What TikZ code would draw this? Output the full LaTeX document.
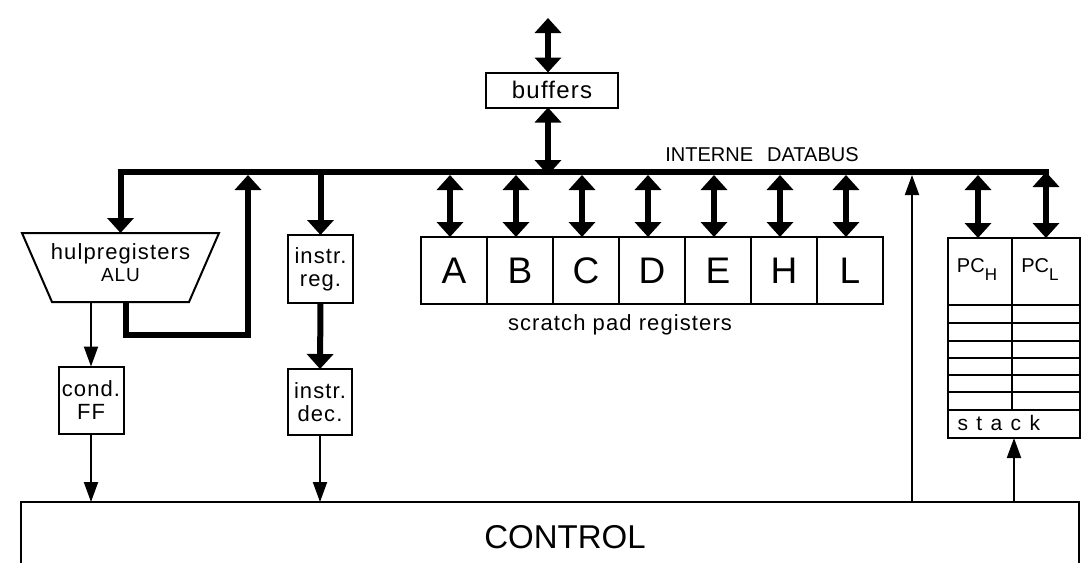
\documentclass[tikz,border=0pt]{standalone}
\usepackage{fontspec}
\setmainfont{Liberation Sans}
\newfontfamily\lblfont[LetterSpace=5]{Liberation Sans}
\newfontfamily\widefont[LetterSpace=40]{Liberation Sans}
\usetikzlibrary{arrows.meta,calc}
\begin{document}
\begin{tikzpicture}[x=1pt,y=-1pt,
  box/.style={draw,line width=2pt,inner sep=0pt,outer sep=0pt},
  bus/.style={line width=6pt},
  thickarr/.style={line width=6pt,-{Triangle[width=26pt,length=15pt]}},
  dblarr/.style={line width=6pt,{Triangle[width=26pt,length=15pt]}-{Triangle[width=26pt,length=15pt]}},
  thinarr/.style={line width=2pt,-{Triangle[width=14pt,length=20pt]}},
  lbl/.style={font=\lblfont\fontsize{22}{23}\selectfont,align=center},
  reg/.style={box,minimum width=66pt,minimum height=67pt,font=\fontsize{37}{37}\selectfont}]
\useasboundingbox (0,0) rectangle (1081,562);
\clip (0,0) rectangle (1081,562);

% internal data bus
\coordinate (bl) at (117.5,172);
\coordinate (br) at (1049,172);
\coordinate (busy) at (0,175);
\draw[bus] (bl) -- (br);
\node[font=\fontsize{20}{20}\selectfont] (busname) at (762,155) {INTERNE\hspace{14pt}DATABUS};

% buffers to the outside
\node[box,minimum width=132pt,minimum height=35pt,font=\lblfont\fontsize{24}{24}\selectfont] (buf) at (552,90) {buffers};
\coordinate (ext) at (548,18);
\draw[dblarr] (ext) -- (ext |- buf.north);
\draw[dblarr] (ext |- buf.south) -- (ext |- busy);

% ALU with auxiliary registers
\node[minimum width=197pt,minimum height=69pt,anchor=north west,inner sep=0pt,outer sep=0pt,lbl,text depth=9pt] (alu) at (22,233)
  {hulpregisters\\[-1pt]{\fontsize{19}{19}\selectfont ALU}};
\draw[line width=2pt] (alu.north west) -- (alu.north east) -- ([xshift=-30pt]alu.south east)
  -- ([xshift=30pt]alu.south west) -- cycle;
\draw[thickarr] (alu.north |- bl) -- (alu.north);
\coordinate (aluout) at ([xshift=5pt]alu.south);
\coordinate (ret) at (248,335);
\draw[thickarr] (aluout) |- (ret) -- (ret |- busy);

% condition flip-flops
\node[box,minimum width=65pt,minimum height=67pt,lbl] (ff) at (91,400) {cond.\\FF};
\draw[thinarr] (ff.north |- alu.south) -- (ff.north);

% instruction register and decoder
\node[box,minimum width=65pt,minimum height=68pt,lbl] (ireg) at (320.5,269) {instr.\\reg.};
\node[box,minimum width=64pt,minimum height=66pt,lbl] (idec) at (320,402) {instr.\\dec.};
\draw[thickarr] (ireg.north |- bl) -- (ireg.north);
\draw[thickarr] (ireg.south) -- (idec.north);

% control unit
\node[box,anchor=north west,minimum width=1058pt,minimum height=100pt] (control) at (21,502) {};
\node[font=\fontsize{33}{33}\selectfont] (ctrltxt) at (565,537) {CONTROL};
\draw[thinarr] (ff.south) -- (ff.south |- control.north);
\draw[thinarr] (idec.south) -- (idec.south |- control.north);

% scratch pad registers
\foreach \n [count=\i from 0] in {A,B,C,D,E,H,L}
  \node[reg] (\n) at (454+66*\i,270.5) {\n};
\foreach \n in {A,B,C,D,E,H,L}
  \draw[dblarr] ([xshift=-4pt]\n.north |- busy) -- ([xshift=-4pt]\n.north);
\node[lbl] (scratch) at (620,325) {scratch pad registers};

% program counter and stack
\node[box,anchor=north west,minimum width=132pt,minimum height=200pt] (stk) at (948,238) {};
\draw[line width=2pt] (1012,238) -- (1012,410);
\foreach \yy in {305,323,341,358,375,392,410}
  \draw[line width=2pt] (stk.west |- 0,\yy) -- (stk.east |- 0,\yy);
\node[font=\fontsize{20}{20}\selectfont] (pch) at (977,270) {PC\raisebox{-8pt}{\fontsize{17}{17}\selectfont H}};
\node[font=\fontsize{20}{20}\selectfont] (pcl) at (1040,270) {PC\raisebox{-8pt}{\fontsize{17}{17}\selectfont L}};
\node[font=\widefont\fontsize{21}{21}\selectfont,anchor=west] (stktxt) at (954,423) {stack};
\draw[dblarr] ([xshift=30pt]stk.north west |- busy) -- ([xshift=30pt]stk.north west);
\draw[dblarr] ([xshift=-34pt]stk.north east |- br) -- ([xshift=-34pt]stk.north east);
\draw[thinarr] (stk.south |- control.north) -- (stk.south);

% control feedback onto the bus
\coordinate (pcin) at (912,175);
\draw[thinarr] (pcin |- control.north) -- (pcin);
\end{tikzpicture}
\end{document}
